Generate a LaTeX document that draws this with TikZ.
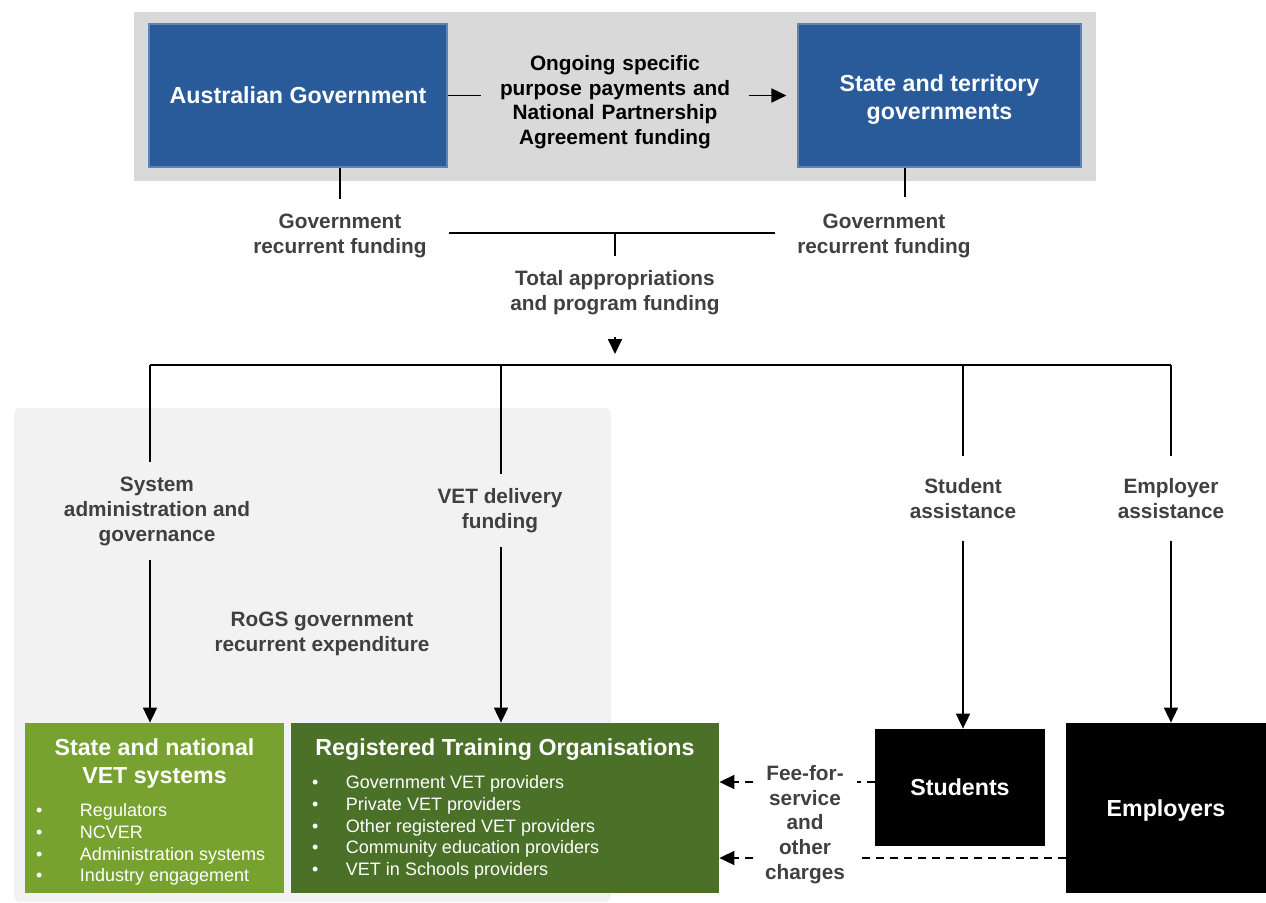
\documentclass[tikz,border=0pt]{standalone}
\usepackage{fontspec}
\setmainfont{Liberation Sans}
\usetikzlibrary{arrows.meta,positioning}
\definecolor{govblue}{RGB}{41,91,154}
\definecolor{bandgrey}{RGB}{217,217,217}
\definecolor{panelgrey}{RGB}{242,242,242}
\definecolor{vetgreen}{RGB}{119,162,48}
\definecolor{rtogreen}{RGB}{75,112,40}
\definecolor{labelgrey}{RGB}{64,64,64}

\begin{document}
\begin{tikzpicture}[
      x=0.5pt, y=-0.5pt,
      every node/.style={font=\bfseries\fontsize{10.4}{12.5}\selectfont, align=center, text=labelgrey},
      govbox/.style={fill=govblue, draw=govblue!75!white, line width=0.6pt, text=white, inner sep=0pt, minimum height=71.5pt, font=\bfseries\fontsize{11.6}{14}\selectfont},
      blackbox/.style={fill=black, text=white, inner sep=0pt, font=\bfseries\fontsize{11.6}{14}\selectfont},
      greenbox/.style={inner sep=0pt, minimum height=85pt},
      boxtitle/.style={text=white, inner sep=0pt, font=\bfseries\fontsize{11.6}{14}\selectfont},
      boxlist/.style={text=white, inner sep=0pt, align=left, font=\fontsize{9}{10.9}\selectfont},
      flowlabel/.style={inner ysep=7pt},
      line/.style={line width=0.9pt},
      bar/.style={line width=1.3pt},
      arrow/.style={line width=0.9pt, -{Triangle[length=7.5pt,width=7pt]}},
      dashline/.style={line width=0.9pt, dash pattern=on 4pt off 3pt},
      dasharrow/.style={dashline, -{Triangle[length=7.5pt,width=7pt]}}
  ]
    \useasboundingbox (0,0) rectangle (1266,902);

    % backgrounds
    \fill[bandgrey] (134,12) rectangle (1096,181);
    \fill[panelgrey, rounded corners=3pt] (14,408) rectangle (611,902);

    % governments
    \node[govbox, minimum width=149pt] (ausgov) at (298,95.5) {Australian Government};
    \node[govbox, minimum width=141.5pt] (stategov) at (939.5,95.5) {\rule{0pt}{12.5pt}State and territory\\governments};
    \node[text=black, text width=124pt, inner xsep=5pt, font=\bfseries\fontsize{10.4}{12.3}\selectfont] (ongoing) at (615,102)
      {Ongoing specific\\purpose payments and\\National Partnership\\Agreement funding};
    \draw[line] (ausgov.east) -- (ausgov.east -| ongoing.west);
    \draw[arrow, shorten >=5.5pt] (stategov.west -| ongoing.east) -- (stategov.west);

    % recurrent funding
    \node[flowlabel, inner xsep=11pt] (grfL) at (340,235.5) {Government\\recurrent funding};
    \node[flowlabel, inner xsep=11pt] (grfR) at (884,235.5) {Government\\recurrent funding};
    \coordinate (grfRtop) at (905,197);
    \coordinate (split) at (615,233);
    \draw[line] (grfL.north |- ausgov.south) -- (grfL.north);
    \draw[line] (grfRtop |- stategov.south) -- (grfRtop);
    \draw[bar] (grfL.east |- split) -- (grfR.west |- split);
    \node[flowlabel] (total) at (615,292.5) {Total appropriations\\and program funding};
    \draw[line] (split) -- (total.north);

    % distribution bus
    \coordinate (bus) at (615,365);
    \coordinate (c1) at (150,365);
    \coordinate (c2) at (501,365);
    \coordinate (c3) at (963,365);
    \coordinate (c4) at (1171,365);
    \draw[arrow, shorten <=4pt, shorten >=5.5pt] (total.south) -- (bus);
    \draw[bar] (c1) -- (c4);

    \node[flowlabel] (sysadmin) at (157,511) {System\\administration and\\governance};
    \node[flowlabel] (vetdel) at (500,510.5) {VET delivery\\funding};
    \node[flowlabel, inner ysep=11pt] (studassist) at (963,498.5) {Student\\assistance};
    \node[flowlabel, inner ysep=11pt] (empassist) at (1171,498.5) {Employer\\assistance};
    \node (rogs) at (322,634) {RoGS government\\recurrent expenditure};

    % receiving boxes
    \node[greenbox, fill=vetgreen, minimum width=129.5pt] (statevet) at (154.5,808) {};
    \node[boxtitle, below=8pt of statevet.north] (svtitle) {State and national\\VET systems};
    \coordinate (svcorner) at (svtitle.south -| statevet.west);
    \node[boxlist, below right=7pt and 5.5pt of svcorner] (svlist)
      {\makebox[22pt][l]{\textbullet}Regulators\\
       \makebox[22pt][l]{\textbullet}NCVER\\
       \makebox[22pt][l]{\textbullet}Administration systems\\
       \makebox[22pt][l]{\textbullet}Industry engagement};

    \node[greenbox, fill=rtogreen, minimum width=214pt] (rto) at (505,808) {};
    \node[boxtitle, below=8pt of rto.north] (rtotitle) {Registered Training Organisations};
    \coordinate (rtocorner) at (rtotitle.south -| rto.west);
    \node[boxlist, below right=7pt and 10.5pt of rtocorner] (rtolist)
      {\makebox[17pt][l]{\textbullet}Government VET providers\\
       \makebox[17pt][l]{\textbullet}Private VET providers\\
       \makebox[17pt][l]{\textbullet}Other registered VET providers\\
       \makebox[17pt][l]{\textbullet}Community education providers\\
       \makebox[17pt][l]{\textbullet}VET in Schools providers};

    \node[blackbox, minimum width=85pt, minimum height=58.5pt] (students) at (960,787.5) {Students};
    \node[blackbox, minimum width=100pt, minimum height=85pt] (employers) at (1166,808) {\rule{0pt}{11pt}Employers};

    % drops from the bus
    \draw[line] (c1) -- (c1 |- sysadmin.north);
    \draw[arrow] (c1 |- sysadmin.south) -- (c1 |- statevet.north);
    \draw[line] (c2) -- (c2 |- vetdel.north);
    \draw[arrow] (c2 |- vetdel.south) -- (c2 |- rto.north);
    \draw[line] (c3) -- (c3 |- studassist.north);
    \draw[arrow] (c3 |- studassist.south) -- (c3 |- students.north);
    \draw[line] (c4) -- (c4 |- empassist.north);
    \draw[arrow] (c4 |- empassist.south) -- (c4 |- employers.north);

    % fees back to the providers
    \node[inner xsep=6pt, font=\bfseries\fontsize{10.4}{12.4}\selectfont] (fee) at (805,824.5) {Fee-for-\\service\\and\\other\\charges};
    \draw[dashline] ([yshift=2.75pt]students.west) -- ([yshift=2.75pt]students.west -| fee.east);
    \draw[dasharrow] ([yshift=2.75pt]students.west -| fee.west) -- ([yshift=2.75pt]students.west -| rto.east);
    \draw[dashline] ([yshift=-25pt]employers.west) -- ([yshift=-25pt]employers.west -| fee.east);
    \draw[dasharrow] ([yshift=-25pt]employers.west -| fee.west) -- ([yshift=-25pt]employers.west -| rto.east);
  \end{tikzpicture}
\end{document}
